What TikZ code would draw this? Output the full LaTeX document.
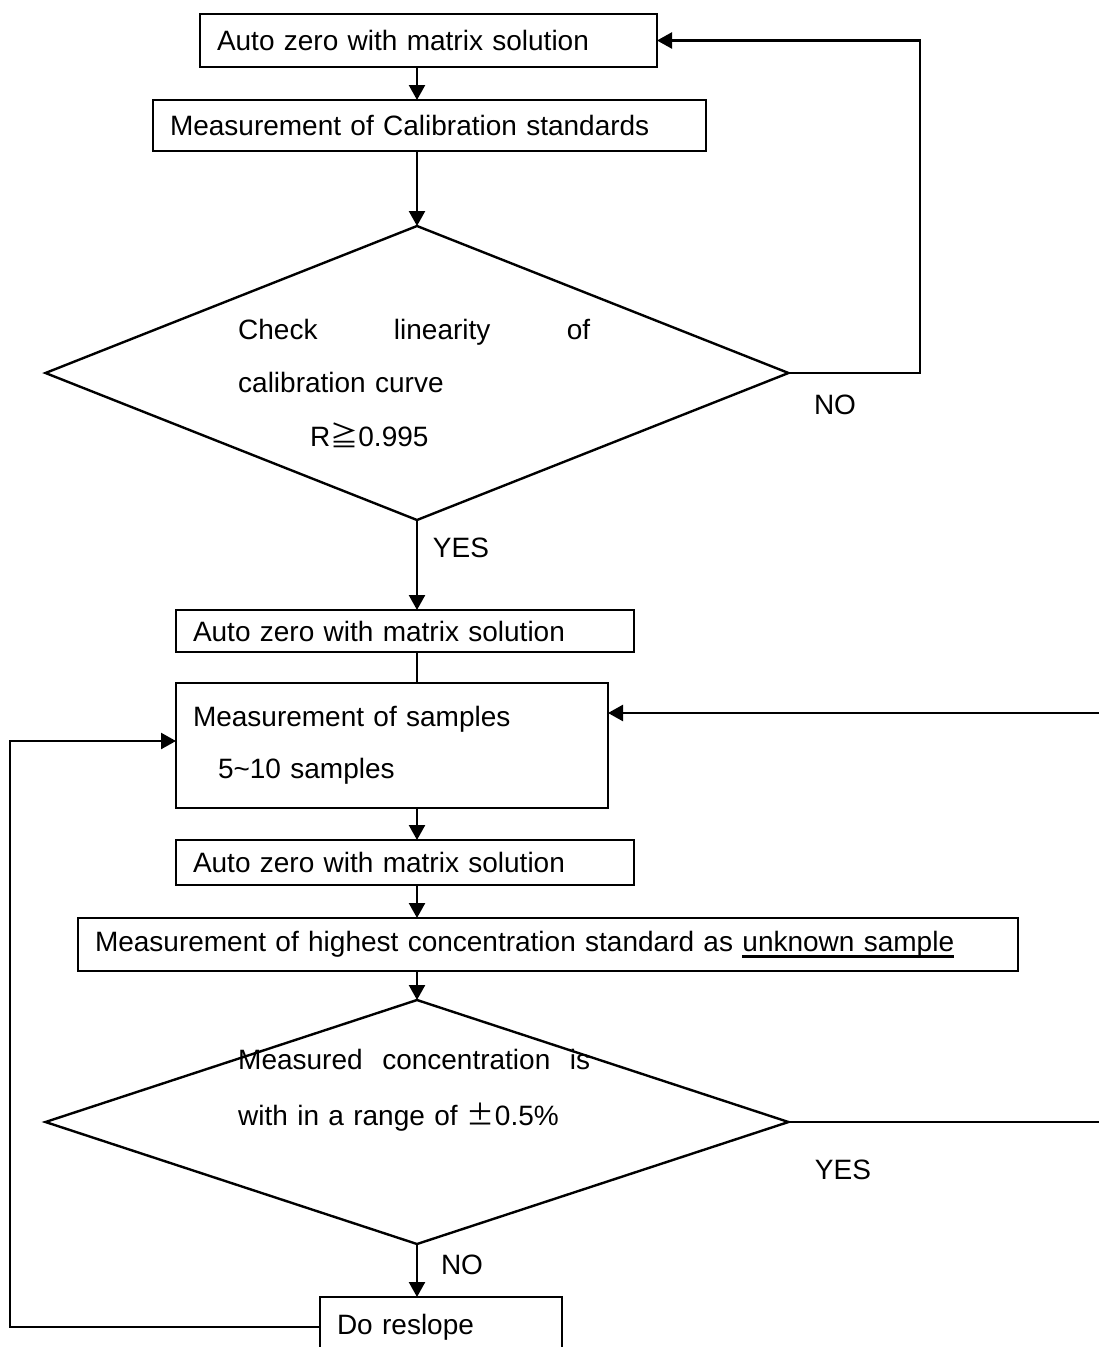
\documentclass[tikz,border=0pt]{standalone}
\usepackage{fontspec}
\setmainfont{Liberation Sans}
\newfontfamily\cjk{Noto Sans CJK JP}
\usetikzlibrary{arrows.meta,shapes.geometric,calc}
\newcommand\myul[1]{\setbox0\hbox{#1}\rlap{\raisebox{-6pt}{\rule{\wd0}{2.2pt}}}\box0}
\begin{document}
\begin{tikzpicture}[x=1pt,y=-1pt,
  box/.style={draw,line width=2.4pt,rectangle,inner xsep=17pt,inner ysep=0pt,outer sep=0pt,
    align=left,anchor=north west,font=\fontsize{28}{34}\selectfont},
  dia/.style={draw,line width=2.4pt,diamond,inner sep=0pt,outer sep=0pt,minimum width=743pt},
  txt/.style={inner sep=0pt,align=left,anchor=west},
  lbl/.style={inner sep=0pt,font=\fontsize{28}{34}\selectfont},
  ln/.style={line width=2.4pt},
  arr/.style={line width=2.4pt,-{Triangle[length=15pt,width=16pt]}}]
\useasboundingbox (0,0) rectangle (1099,1347);

\node[box,minimum width=457pt,minimum height=53pt,text width=423pt] (s1) at (200,14) {Auto zero with matrix solution};
\node[box,minimum width=553pt,minimum height=51pt,text width=519pt] (s2) at (153,100) {Measurement of Calibration standards};
\node[dia,minimum height=294pt] (d1) at (417,373) {};
\node[txt,text width=352pt,font=\fontsize{28}{53.5}\selectfont] (t1) at (238,383)
  {\makebox[352pt]{Check\hfill linearity\hfill of}\\calibration curve\\\hspace*{72pt}R{\cjk ≧}0.995};
\node[box,minimum width=458pt,minimum height=42pt,text width=424pt] (s3) at (176,610) {Auto zero with matrix solution};
\node[box,minimum width=432pt,minimum height=125pt,text width=398pt,font=\fontsize{28}{52}\selectfont] (s4) at (176,683)
  {Measurement of samples\\\hspace*{25pt}5\string~10 samples};
\node[box,minimum width=458pt,minimum height=45pt,text width=424pt] (s5) at (176,840) {Auto zero with matrix solution};
\node[box,minimum width=940pt,minimum height=53pt,text width=906pt] (s6) at (78,918)
  {Measurement of highest concentration standard as \myul{unknown sample}};
\node[dia,minimum height=244pt] (d2) at (417,1122) {};
\node[txt,text width=352pt,font=\fontsize{28}{56}\selectfont] (t2) at (238,1090)
  {\makebox[352pt]{Measured\hfill concentration\hfill is}\\with in a range of {\cjk ±}0.5\%};
\node[box,minimum width=242pt,minimum height=60pt,text width=208pt] (s7) at (320,1297) {Do reslope};

\node[lbl] (no1) at (835,405) {NO};
\node[lbl] (yes1) at (461,548) {YES};
\node[lbl] (yes2) at (843,1170) {YES};
\node[lbl] (no2) at (462,1265) {NO};

\coordinate (cx) at (417,0);
\coordinate (tc) at (920,0);
\coordinate (rc) at (1115,0);
\coordinate (lc) at (10,0);

\draw[arr] (s1.south -| cx) -- (s2.north -| cx);
\draw[arr] (s2.south -| cx) -- (d1.north);
\draw[arr] (d1.south) -- (s3.north -| cx);
\draw[ln] (s3.south -| cx) -- (s4.north -| cx);
\draw[arr] (s4.south -| cx) -- (s5.north -| cx);
\draw[arr] (s5.south -| cx) -- (s6.north -| cx);
\draw[arr] (s6.south -| cx) -- (d2.north);
\draw[arr] (d2.south) -- (s7.north -| cx);

\draw[arr] (d1.east) -- (d1.east -| tc) |- (s1.east);
\draw[arr] (d2.east) -- (d2.east -| rc) |- ([yshift=-30pt]s4.north east);
\draw[arr] (s7.west) -- (s7.west -| lc) |- ([yshift=-58pt]s4.north west);
\end{tikzpicture}
\end{document}
